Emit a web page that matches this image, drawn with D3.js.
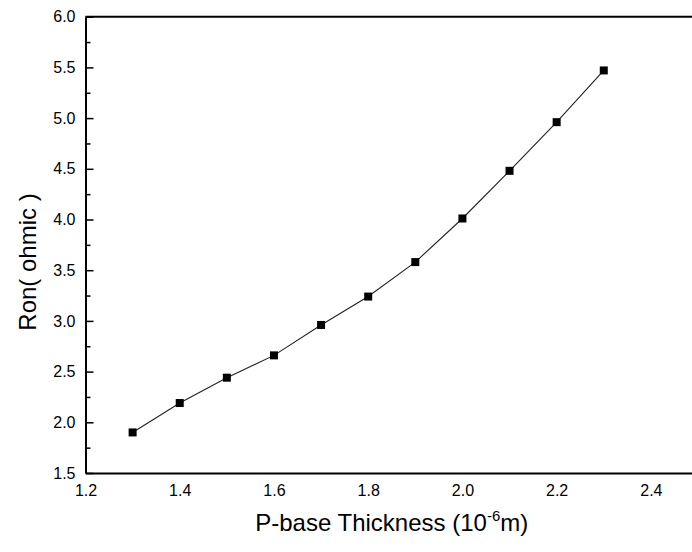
<!DOCTYPE html>
<html>
<head>
<meta charset="utf-8">
<script src="https://cdn.jsdelivr.net/npm/d3@7"></script>
<style>
  body { margin: 0; background: #fff; }
  svg { display: block; font-family: Arial, "Liberation Sans", sans-serif; }
</style>
</head>
<body>
<svg id="chart"></svg>
<script>
// chart values
const thickness = [1.3, 1.4, 1.5, 1.6, 1.7, 1.8, 1.9, 2.0, 2.1, 2.2, 2.3];
const ron = [1.90, 2.19, 2.44, 2.66, 2.96, 3.24, 3.58, 4.01, 4.48, 4.96, 5.47];
const xTicks = [1.2, 1.4, 1.6, 1.8, 2.0, 2.2, 2.4];
const yTicks = [1.5, 2.0, 2.5, 3.0, 3.5, 4.0, 4.5, 5.0, 5.5, 6.0];
const yMinorTicks = [1.75, 2.25, 2.75, 3.25, 3.75, 4.25, 4.75, 5.25, 5.75];

const width = 692, height = 552;
const margin = {top: 16.7, left: 85.5, bottom: 79, right: -6};

const svg = d3.select('#chart')
    .attr('width', width)
    .attr('height', height);

const xScale = d3.scaleLinear()
    .domain([1.2, 2.5])
    .range([margin.left, width - margin.right]);
const yScale = d3.scaleLinear()
    .domain([1.5, 6.0])
    .range([height - margin.bottom, margin.top]);

const points = thickness.map((t, i) => ({x: t, y: ron[i]}));

// connecting line
const line = d3.line()
    .x(d => xScale(d.x))
    .y(d => yScale(d.y));

svg.append('path')
    .datum(points)
    .attr('fill', 'none')
    .attr('stroke', '#222')
    .attr('stroke-width', 1.1)
    .attr('d', line);

// square markers
svg.selectAll('rect.marker')
    .data(points)
    .enter()
    .append('rect')
        .attr('class', 'marker')
        .attr('x', d => xScale(d.x) - 4)
        .attr('y', d => yScale(d.y) - 4)
        .attr('width', 8)
        .attr('height', 8)
        .attr('fill', '#000');

// y axis, ticks point inward
const yAxis = d3.axisLeft(yScale)
    .tickValues(yTicks)
    .tickFormat(d3.format('.1f'))
    .tickSizeInner(-8)
    .tickSizeOuter(0)
    .tickPadding(10);

const yAxisGroup = svg.append('g')
    .attr('transform', `translate(${margin.left},0)`)
    .call(yAxis);
yAxisGroup.select('.domain').attr('stroke-width', 2);
yAxisGroup.selectAll('.tick line').attr('stroke-width', 1.5);
yAxisGroup.selectAll('.tick text')
    .attr('font-size', '16px')
    .attr('font-family', 'Arial, "Liberation Sans", sans-serif')
    .attr('fill', '#000');

const yMinor = d3.axisLeft(yScale)
    .tickValues(yMinorTicks)
    .tickFormat('')
    .tickSizeInner(-5)
    .tickSizeOuter(0);
const yMinorGroup = svg.append('g')
    .attr('transform', `translate(${margin.left},0)`)
    .call(yMinor);
yMinorGroup.select('.domain').remove();
yMinorGroup.selectAll('.tick line').attr('stroke-width', 1.5);

// x axis, no tick marks shown
const xAxis = d3.axisBottom(xScale)
    .tickValues(xTicks)
    .tickFormat(d3.format('.1f'))
    .tickSizeInner(0)
    .tickSizeOuter(0)
    .tickPadding(12);

const xAxisGroup = svg.append('g')
    .attr('transform', `translate(0,${height - margin.bottom})`)
    .call(xAxis);
xAxisGroup.select('.domain').attr('stroke-width', 2);
xAxisGroup.selectAll('.tick text')
    .attr('font-size', '16px')
    .attr('font-family', 'Arial, "Liberation Sans", sans-serif')
    .attr('fill', '#000');

// top frame line
svg.append('line')
    .attr('x1', margin.left)
    .attr('x2', xScale(2.5))
    .attr('y1', yScale(6.0))
    .attr('y2', yScale(6.0))
    .attr('stroke', '#000')
    .attr('stroke-width', 2);

// axis titles
const xTitle = svg.append('text')
    .attr('x', (margin.left + xScale(2.5)) / 2)
    .attr('y', 531)
    .attr('text-anchor', 'middle')
    .attr('font-size', '24px')
    .attr('fill', '#000');
xTitle.append('tspan').text('P-base Thickness (10');
xTitle.append('tspan')
    .attr('font-size', '15px')
    .attr('dy', -10)
    .text('-6');
xTitle.append('tspan')
    .attr('dy', 10)
    .text('m)');

svg.append('text')
    .attr('transform', 'translate(36,262) rotate(-90)')
    .attr('text-anchor', 'middle')
    .attr('font-size', '24px')
    .attr('fill', '#000')
    .text('Ron( ohmic )');
</script>
</body>
</html>
